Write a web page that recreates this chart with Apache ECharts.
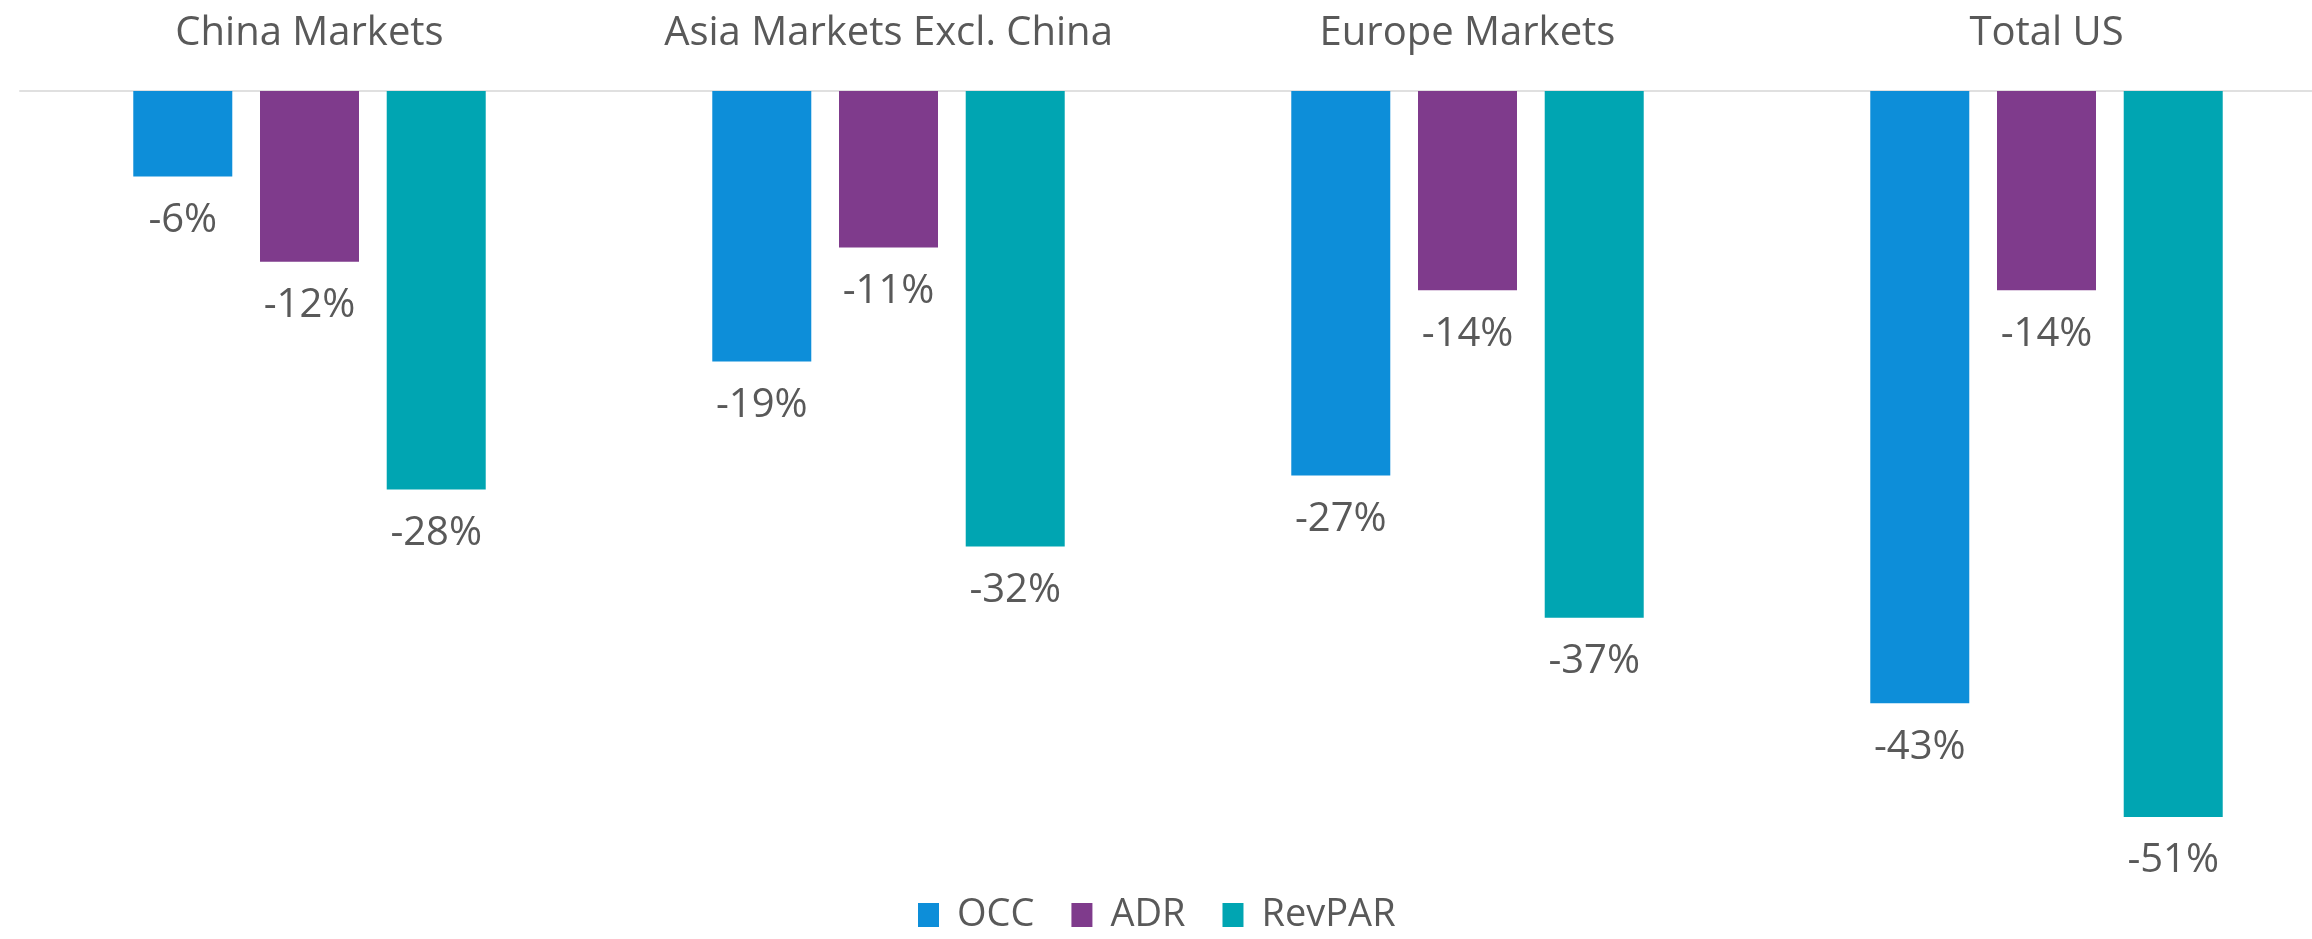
<!DOCTYPE html>
<html>
<head>
<meta charset="utf-8">
<title>OCC / ADR / RevPAR</title>
<script src="https://cdn.jsdelivr.net/npm/echarts@6/dist/echarts.min.js"></script>
<style>
    html, body { margin: 0; padding: 0; background: #fff; overflow: hidden; }
    /* chart is a bit wider than the window: the last group is cut at the right edge */
    #chart { width: 2336px; height: 939px; }
</style>
</head>
<body>
<div id="chart"></div>
<script>
const categories = ['China Markets', 'Asia Markets Excl. China', 'Europe Markets', 'Total US'];
const occ = [-6, -19, -27, -43];
const adr = [-12, -11, -14, -14];
const revpar = [-28, -32, -37, -51];

const labelColor = '#595959';

function makeSeries(name, data, color) {
    return {
        name: name,
        type: 'bar',
        data: data,
        barWidth: 99,
        barGap: '28%',
        itemStyle: { color: color },
        label: {
            show: true,
            position: 'bottom',
            distance: 24,
            color: labelColor,
            fontSize: 40,
            fontFamily: 'Open Sans',
            formatter: function (p) { return p.value + '%'; }
        }
    };
}

const chart = echarts.init(document.getElementById('chart'));
chart.setOption({
    backgroundColor: '#fff',
    animation: false,
    grid: {
        left: 20,
        right: 0,
        top: 91,
        bottom: 65
    },
    legend: {
        data: ['OCC', 'ADR', 'RevPAR'],
        left: 913,
        top: 891,
        icon: 'rect',
        itemWidth: 21,
        itemHeight: 24,
        itemGap: 37,
        textStyle: {
            color: labelColor,
            fontSize: 38,
            fontFamily: 'Open Sans',
            padding: [0, 0, 0, 13]
        }
    },
    xAxis: {
        type: 'category',
        position: 'top',
        data: categories,
        axisTick: { show: false },
        axisLine: { lineStyle: { color: '#e0e0e0', width: 2 } },
        axisLabel: {
            interval: 0,
            color: labelColor,
            fontSize: 40,
            fontFamily: 'Open Sans',
            margin: 37
        }
    },
    yAxis: {
        type: 'value',
        min: -55,
        max: 0,
        show: false,
        splitLine: { show: false }
    },
    series: [
        makeSeries('OCC', occ, '#0d8ed9'),
        makeSeries('ADR', adr, '#7f3b8c'),
        makeSeries('RevPAR', revpar, '#00a5b2')
    ]
});
</script>
</body>
</html>
